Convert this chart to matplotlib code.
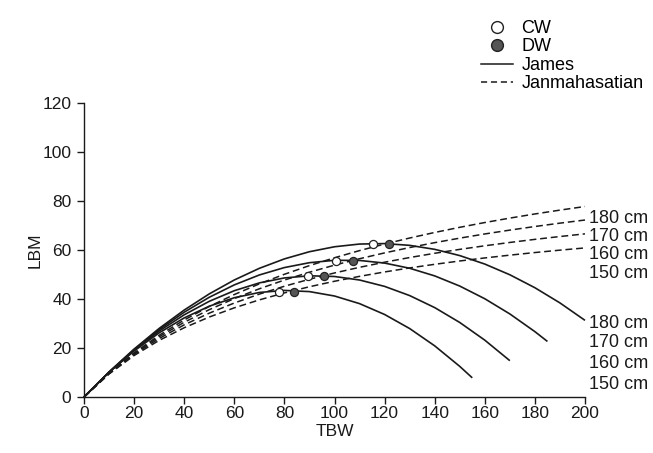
import matplotlib
matplotlib.use("Agg")
import matplotlib.pyplot as plt
from matplotlib.lines import Line2D

plt.rcParams['font.family'] = ['Liberation Sans', 'DejaVu Sans']

heights = ["150 cm", "160 cm", "170 cm", "180 cm"]

# James curves (TBW vs LBM)
james_x = {
    "150 cm": [0, 10, 20, 30, 40, 50, 60, 70, 80, 90, 100, 110, 120, 130, 140, 150, 155],
    "160 cm": [0, 10, 20, 30, 40, 50, 60, 70, 80, 90, 100, 110, 120, 130, 140, 150, 160, 170],
    "170 cm": [0, 10, 20, 30, 40, 50, 60, 70, 80, 90, 100, 110, 120, 130, 140, 150, 160, 170, 180, 185],
    "180 cm": [0, 10, 20, 30, 40, 50, 60, 70, 80, 90, 100, 110, 120, 130, 140, 150, 160, 170, 180, 190, 200],
}
james_y = {
    "150 cm": [0, 10.04, 18.77, 26.18, 32.28, 37.06, 40.52, 42.67, 43.50, 43.02, 41.22, 38.11, 33.68, 27.94, 20.88, 12.50, 7.82],
    "160 cm": [0, 10.12, 19.09, 26.90, 33.55, 39.05, 43.39, 46.57, 48.60, 49.47, 49.19, 47.75, 45.15, 41.40, 36.49, 30.42, 23.20, 14.82],
    "170 cm": [0, 10.19, 19.35, 27.49, 34.61, 40.70, 45.76, 49.81, 52.83, 54.82, 55.79, 55.74, 54.66, 52.55, 49.43, 45.28, 40.10, 33.90, 26.68, 22.68],
    "180 cm": [0, 10.24, 19.57, 27.99, 35.49, 42.08, 47.76, 52.52, 56.37, 59.30, 61.32, 62.43, 62.62, 61.90, 60.27, 57.72, 54.26, 49.89, 44.60, 38.40, 31.28],
}

# Janmahasatian curves
jan_x = [0, 10, 20, 30, 40, 50, 60, 70, 80, 90, 100, 110, 120, 130, 140, 150, 160, 170, 180, 190, 200]
jan_y = {
    "150 cm": [0, 9.40, 16.93, 23.11, 28.27, 32.64, 36.39, 39.64, 42.49, 45.00, 47.24, 49.24, 51.04, 52.68, 54.16, 55.52, 56.76, 57.90, 58.96, 59.94, 60.85],
    "160 cm": [0, 9.52, 17.35, 23.89, 29.45, 34.22, 38.36, 42.00, 45.21, 48.06, 50.63, 52.93, 55.02, 56.92, 58.66, 60.26, 61.72, 63.08, 64.34, 65.50, 66.59],
    "170 cm": [0, 9.63, 17.71, 24.58, 30.50, 35.65, 40.17, 44.17, 47.74, 50.94, 53.82, 56.44, 58.82, 61.00, 63.00, 64.84, 66.55, 68.12, 69.59, 70.96, 72.24],
    "180 cm": [0, 9.72, 18.02, 25.19, 31.44, 36.95, 41.82, 46.18, 50.09, 53.63, 56.83, 59.76, 62.43, 64.89, 67.16, 69.26, 71.21, 73.02, 74.71, 76.28, 77.76],
}

# CW / DW points
cw_x = [77.8, 89.5, 100.5, 115.5]
cw_y = [43.0, 49.2, 55.7, 62.3]
dw_x = [83.7, 95.8, 107.3, 121.9]
dw_y = [43.0, 49.2, 55.7, 62.3]

# label positions (right side)
jan_label_y = [50.5, 58.0, 65.5, 73.0]
james_label_y = [5.3, 13.5, 22.4, 30.2]

xticks = [0, 20, 40, 60, 80, 100, 120, 140, 160, 180, 200]
yticks = [0, 20, 40, 60, 80, 100, 120]

fig = plt.figure(figsize=(6.53, 4.53), dpi=100)
ax = fig.add_axes([84/653, 56/453, 501/653, 294/453])

ink = '#1a1a1a'
dash = (0, (4.5, 2.5))
for h in heights:
    ax.plot(james_x[h], james_y[h], color=ink, lw=1.2, solid_capstyle='butt', clip_on=False)
    ax.plot(jan_x, jan_y[h], color=ink, lw=1.1, linestyle=dash, clip_on=False)

ax.scatter(cw_x, cw_y, s=34, facecolor='white', edgecolor='#222222', linewidth=0.9, zorder=5)
ax.scatter(dw_x, dw_y, s=34, facecolor='#555555', edgecolor='#222222', linewidth=0.9, zorder=5)

for h, yv in zip(heights, jan_label_y):
    ax.text(201.5, yv, h, fontsize=13, va='center', ha='left', color=ink, clip_on=False)
for h, yv in zip(heights, james_label_y):
    ax.text(201.5, yv, h, fontsize=13, va='center', ha='left', color=ink, clip_on=False)

ax.set_xlim(0, 200)
ax.set_ylim(0, 120)
ax.set_xticks(xticks)
ax.set_yticks(yticks)
ax.tick_params(direction='out', length=5, width=1, labelsize=12.5, colors=ink)
ax.tick_params(axis='x', pad=1.5)
ax.tick_params(axis='y', pad=4)
for s in ['top', 'right']:
    ax.spines[s].set_visible(False)
for s in ['left', 'bottom']:
    ax.spines[s].set_linewidth(1.0)
    ax.spines[s].set_color(ink)

ax.set_xlabel('TBW', fontsize=12.5, color=ink, labelpad=2.5)
ax.set_ylabel('LBM', fontsize=12.5, color=ink, labelpad=0)

handles = [
    Line2D([], [], marker='o', linestyle='none', markerfacecolor='white', markeredgecolor='#222222', markersize=8.5),
    Line2D([], [], marker='o', linestyle='none', markerfacecolor='#555555', markeredgecolor='#222222', markersize=8.5),
    Line2D([], [], color=ink, lw=1.1),
    Line2D([], [], color=ink, lw=1.1, linestyle=(0, (4, 2.5))),
]
fig.legend(handles, ['CW', 'DW', 'James', 'Janmahasatian'], loc='upper left',
           bbox_to_anchor=(481/653, 1 - 20/453), frameon=False, fontsize=13,
           handlelength=1.75, handletextpad=0.5, labelspacing=0.08, borderaxespad=0,
           borderpad=0)

fig.savefig('out.png', dpi=100)
